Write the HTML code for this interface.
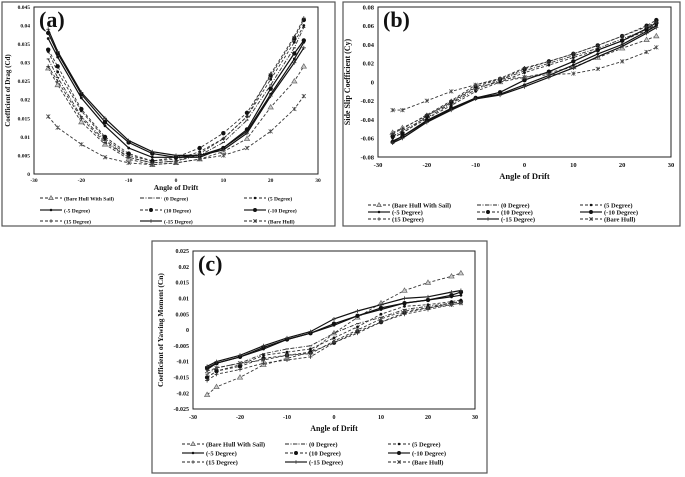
<!DOCTYPE html>
<html><head><meta charset="utf-8">
<style>
body{margin:0;background:#fff;width:685px;height:477px;overflow:hidden}
svg{position:absolute;left:0;top:0}
text{font-family:"Liberation Serif",serif;font-weight:bold;fill:#111}
</style></head><body>
<svg id="fig" width="685" height="477"></svg>
<script>
const angles=[-27,-25,-20,-15,-10,-5,0,5,10,15,20,25,27];
const seriesNames=["(Bare Hull With Sail)","(0 Degree)","(5 Degree)","(-5 Degree)","(10 Degree)","(-10 Degree)","(15 Degree)","(-15 Degree)","(Bare Hull)"];
const xTicks=[-30,-20,-10,0,10,20,30];
// Chart (a) Cd
const cdBHWS=[0.0285,0.024,0.014,0.008,0.004,0.0025,0.003,0.004,0.006,0.0095,0.018,0.025,0.029];
const cd0=[0.031,0.026,0.0155,0.009,0.0045,0.003,0.0035,0.005,0.0085,0.0145,0.024,0.034,0.0395];
const cd5=[0.033,0.0275,0.017,0.0095,0.005,0.0035,0.004,0.006,0.0095,0.0155,0.0255,0.0355,0.040];
const cdM5=[0.0365,0.0315,0.0205,0.013,0.007,0.0045,0.0045,0.0045,0.007,0.0115,0.0215,0.031,0.0355];
const cd10=[0.0335,0.029,0.0175,0.010,0.0055,0.0035,0.0045,0.007,0.011,0.0165,0.0265,0.0365,0.0415];
const cdM10=[0.038,0.0325,0.0215,0.014,0.0085,0.0055,0.0045,0.005,0.007,0.012,0.023,0.0325,0.036];
const cd15=[0.029,0.025,0.015,0.0085,0.0045,0.003,0.0035,0.0055,0.0095,0.0155,0.027,0.037,0.042];
const cdM15=[0.039,0.033,0.022,0.015,0.009,0.006,0.005,0.005,0.0065,0.011,0.021,0.030,0.034];
const cdBH=[0.0155,0.0125,0.008,0.0045,0.003,0.0025,0.003,0.004,0.005,0.007,0.0115,0.0175,0.021];
const cdTicks=["0","0.005","0.01","0.015","0.02","0.025","0.03","0.035","0.04","0.045"];
// Chart (b) Cy
const cyBHWS=[-0.054,-0.049,-0.036,-0.022,-0.006,0.000,0.005,0.010,0.016,0.026,0.036,0.045,0.049];
const cy0=[-0.058,-0.052,-0.038,-0.023,-0.008,0.002,0.012,0.020,0.028,0.036,0.046,0.056,0.061];
const cy5=[-0.060,-0.054,-0.039,-0.025,-0.010,0.000,0.010,0.018,0.026,0.034,0.044,0.055,0.060];
const cyM5=[-0.063,-0.058,-0.042,-0.029,-0.017,-0.013,-0.003,0.007,0.018,0.030,0.040,0.054,0.060];
const cy10=[-0.058,-0.055,-0.036,-0.021,-0.005,0.003,0.014,0.022,0.030,0.039,0.049,0.060,0.066];
const cyM10=[-0.064,-0.058,-0.041,-0.028,-0.017,-0.011,0.002,0.011,0.022,0.034,0.044,0.057,0.063];
const cy15=[-0.055,-0.050,-0.035,-0.020,-0.003,0.004,0.015,0.022,0.030,0.039,0.049,0.059,0.064];
const cyM15=[-0.065,-0.060,-0.043,-0.030,-0.018,-0.014,-0.005,0.005,0.015,0.027,0.038,0.052,0.058];
const cyBH=[-0.030,-0.030,-0.020,-0.010,-0.003,0.003,0.005,0.008,0.009,0.014,0.022,0.032,0.037];
const cyTicks=["-0.08","-0.06","-0.04","-0.02","0","0.02","0.04","0.06","0.08"];
// Chart (c) Cn
const cnBHWS=[-0.0205,-0.018,-0.015,-0.011,-0.009,-0.007,-0.001,0.004,0.0085,0.0125,0.015,0.017,0.018];
const cn0=[-0.014,-0.012,-0.0105,-0.0075,-0.006,-0.005,-0.001,0.002,0.004,0.0065,0.0075,0.0085,0.009];
const cn5=[-0.015,-0.013,-0.011,-0.008,-0.007,-0.006,-0.0025,0.001,0.005,0.0075,0.008,0.009,0.0095];
const cnM5=[-0.0125,-0.0105,-0.0085,-0.006,-0.003,-0.001,0.0015,0.0045,0.0065,0.0085,0.0095,0.0105,0.011];
const cn10=[-0.015,-0.013,-0.0115,-0.009,-0.008,-0.007,-0.004,-0.0005,0.0025,0.0055,0.007,0.0085,0.009];
const cnM10=[-0.012,-0.0105,-0.0085,-0.0055,-0.003,-0.001,0.002,0.0045,0.007,0.0085,0.0095,0.011,0.012];
const cn15=[-0.016,-0.014,-0.0125,-0.0105,-0.0095,-0.0085,-0.004,-0.001,0.0025,0.005,0.0065,0.008,0.0085];
const cnM15=[-0.0115,-0.010,-0.008,-0.005,-0.0025,-0.0005,0.0035,0.006,0.008,0.010,0.0105,0.012,0.0125];
const cnBH=[-0.013,-0.012,-0.0105,-0.0095,-0.008,-0.0075,-0.0035,0,0.0035,0.006,0.007,0.008,0.0085];
const cnTicks=["-0.025","-0.02","-0.015","-0.01","-0.005","0","0.005","0.01","0.015","0.02","0.025"];

const NS="http://www.w3.org/2000/svg";
const svg=document.getElementById('fig');
function mk(tag,attrs,parent){const e=document.createElementNS(NS,tag);for(const k in attrs)e.setAttribute(k,attrs[k]);(parent||svg).appendChild(e);return e;}
const styles=[
 {dash:"3,2",solid:false,m:"tri"},{dash:"4,1.5,1,1.5",solid:false,m:"dash"},{dash:"3,2",solid:false,m:"sdot"},
 {dash:"",solid:true,m:"sdot"},{dash:"3,2",solid:false,m:"bdot"},{dash:"",solid:true,m:"bdot"},
 {dash:"3,2",solid:false,m:"plus"},{dash:"",solid:true,m:"plus"},{dash:"3,2",solid:false,m:"star"}];
function marker(g,type,x,y,s){
 if(type==="tri")mk('path',{d:`M${x},${y-2.6*s}L${x+2.6*s},${y+1.8*s}L${x-2.6*s},${y+1.8*s}Z`,fill:"#ccc",stroke:"#666","stroke-width":0.7},g);
 else if(type==="sdot")mk('circle',{cx:x,cy:y,r:1.4*s,fill:"#111"},g);
 else if(type==="bdot")mk('circle',{cx:x,cy:y,r:2.2*s,fill:"#111"},g);
 else if(type==="plus")mk('path',{d:`M${x-2*s},${y}H${x+2*s}M${x},${y-2*s}V${y+2*s}`,stroke:"#333","stroke-width":0.8},g);
 else if(type==="star")mk('path',{d:`M${x-2*s},${y-2*s}L${x+2*s},${y+2*s}M${x+2*s},${y-2*s}L${x-2*s},${y+2*s}M${x},${y-2*s}V${y+2*s}`,stroke:"#444","stroke-width":0.7},g);
 else if(type==="dash")mk('path',{d:`M${x-1.5*s},${y}H${x+1.5*s}`,stroke:"#333","stroke-width":1},g);
}
function chart(cfg){
 const g=mk('g',{});
 
 
 const box=mk('rect',{x:cfg.box[0],y:cfg.box[1],width:cfg.box[2],height:cfg.box[3],fill:"none",stroke:"#555","stroke-width":1.2},g);
 
 const [L,R,T,B]=cfg.plot;
 const xs=v=>L+(v+30)/60*(R-L);
 const ys=v=>B-(v-cfg.ymin)/(cfg.ymax-cfg.ymin)*(B-T);
 const fr=mk('rect',{x:L,y:T,width:R-L,height:B-T,fill:"none",stroke:"#222","stroke-width":1},g);
 
 xTicks.forEach(t=>{const tx=mk('text',{x:xs(t),y:B+cfg.xtOff,"font-size":cfg.fs,"text-anchor":"middle"},g);tx.textContent=t;
  });
 cfg.yticks.forEach(t=>{const tx=mk('text',{x:L-4,y:ys(parseFloat(t))+cfg.fs*0.35,"font-size":cfg.fs,"text-anchor":"end"},g);tx.textContent=t;
  });
 const xt=mk('text',{x:(L+R)/2,y:cfg.xTitleY,"font-size":cfg.fs+2,"text-anchor":"middle"},g);xt.textContent="Angle of Drift";
 
 const yt=mk('text',{x:0,y:0,"font-size":cfg.fs+1.5,"text-anchor":"middle",transform:`translate(${cfg.yTitleX},${(T+B)/2}) rotate(-90)`},g);yt.textContent=cfg.ytitle;
 
 const lab=mk('text',{x:L+5,y:T+20,"font-size":22},g);lab.textContent=cfg.label;
 
 cfg.data.forEach((arr,i)=>{
  const st=styles[i];
  const sg=mk('g',{},g);
  
  const pts=arr.map((v,j)=>xs(angles[j]).toFixed(1)+","+ys(v).toFixed(1)).join(" ");
  const pl=mk('polyline',{points:pts,fill:"none",stroke:st.solid?"#111":"#333","stroke-width":st.solid?1.2:0.9,"stroke-dasharray":st.dash},sg);
  
  arr.forEach((v,j)=>marker(sg,st.m,xs(angles[j]),ys(v),1));
 });
 seriesNames.forEach((n,i)=>{
  const st=styles[i];
  const lx=cfg.legX[i%3],ly=cfg.legY[Math.floor(i/3)];
  const lg=mk('g',{},g);
  
  mk('line',{x1:lx,y1:ly,x2:lx+22,y2:ly,stroke:"#222","stroke-width":st.solid?1.2:0.9,"stroke-dasharray":st.dash},lg);
  marker(lg,st.m,lx+11,ly,0.9);
  const t=mk('text',{x:lx+24,y:ly+2.3,"font-size":cfg.lfs},lg);t.textContent=n;
 });
}
chart({name:"chart-a-drag",box:[2,2,333,224],plot:[34,318,7,174],ymin:0,ymax:0.045,yticks:cdTicks,
 data:[cdBHWS,cd0,cd5,cdM5,cd10,cdM10,cd15,cdM15,cdBH],fs:5.5,xtOff:8,xTitleY:190,yTitleX:10,ytitle:"Coefficient of Drag (Cd)",label:"(a)",
 legX:[40,140,244],legY:[198,210,221],lfs:5.5});
chart({name:"chart-b-sideslip",box:[343,2,337,224],plot:[378,671,7,157],ymin:-0.08,ymax:0.08,yticks:cyTicks,
 data:[cyBHWS,cy0,cy5,cyM5,cy10,cyM10,cy15,cyM15,cyBH],fs:6.5,xtOff:10,xTitleY:179,yTitleX:350,ytitle:"Side Slip Coefficient (Cy)",label:"(b)",
 legX:[368,477,580],legY:[205,212,219],lfs:6.5});
chart({name:"chart-c-yawing",box:[152,241,335,232],plot:[193,475,251,409],ymin:-0.025,ymax:0.025,yticks:cnTicks,
 data:[cnBHWS,cn0,cn5,cnM5,cn10,cnM10,cn15,cnM15,cnBH],fs:6,xtOff:10,xTitleY:431,yTitleX:163,ytitle:"Coefficient of Yawing Moment (Cn)",label:"(c)",
 legX:[182,285,388],legY:[444,453,462],lfs:6.5});
</script>
</body></html>
